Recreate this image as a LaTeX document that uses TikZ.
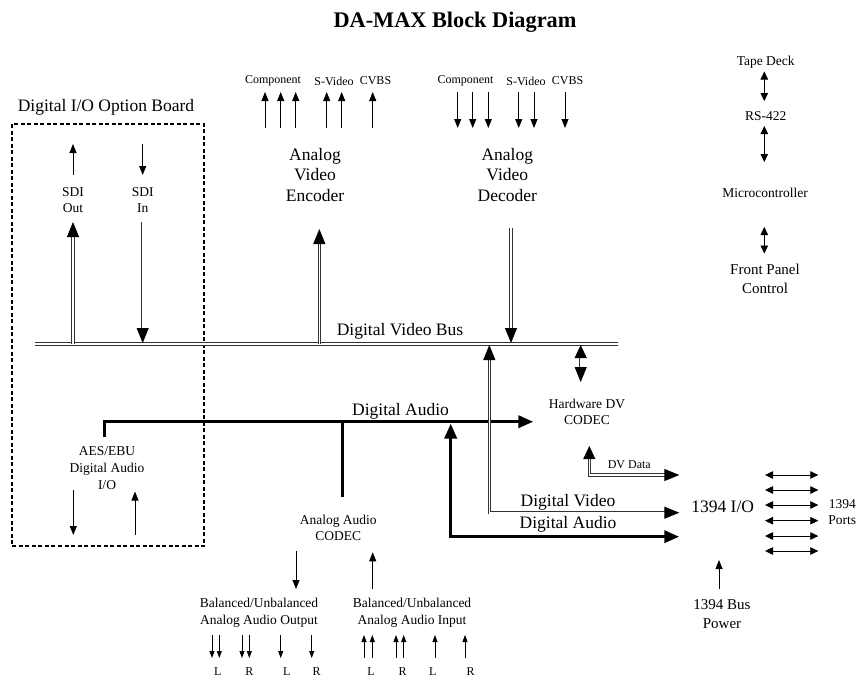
\documentclass[tikz,border=0pt]{standalone}
\usepackage{fontspec}
\setmainfont{Liberation Serif}
\usetikzlibrary{arrows.meta,positioning}

\tikzset{
  txt/.style={font=\fontsize{13.5}{16.7}\selectfont, align=center, inner sep=1pt},
  smtxt/.style={font=\fontsize{12}{14}\selectfont, inner sep=1pt},
  midtxt/.style={font=\fontsize{15}{19}\selectfont, align=center, inner sep=1pt},
  bigtxt/.style={font=\fontsize{17.5}{20.5}\selectfont, align=center, inner sep=1pt},
  sigarr/.style={line width=0.8pt, -{Triangle[length=9pt,width=7pt]}},
  smarr/.style={line width=0.8pt, -{Triangle[length=7pt,width=5pt]}},
  sigboth/.style={line width=0.8pt, {Triangle[length=8pt,width=7.5pt]}-{Triangle[length=8pt,width=7.5pt]}},
  dblline/.style={draw=black!80, double=white, double distance=1.6pt, line width=0.9pt},
  dblarr/.style={dblline, -{Triangle[length=15pt,width=12pt,color=black]}},
  dblboth/.style={dblline, {Triangle[length=13pt,width=12pt,color=black]}-{Triangle[length=15pt,width=12pt,color=black]}},
  audline/.style={line width=3.5pt, line join=miter},
  audarr/.style={audline, -{Triangle[length=15pt,width=12pt]}},
}

\begin{document}
\begin{tikzpicture}[x=1pt, y=-1pt]
  \useasboundingbox (0,0) rectangle (857,681);
  \node[font=\fontsize{22.3}{26}\selectfont\bfseries] (title) at (455,22) {DA-MAX Block Diagram};

  % option board
  \node[bigtxt] (iobrd) at (106,107) {Digital I/O Option Board};
  \draw[line width=1.3pt, dash pattern=on 4pt off 2.5pt] (12,124) rectangle (204,546);
  \node[txt] (sdiout) at (73,200) {SDI\\Out};
  \node[txt] (sdiin) at (142.7,200) {SDI\\In};
  \coordinate (sdioB) at (73,175);   \coordinate (sdioT) at (73,144);
  \coordinate (sdiiT) at (142.7,144); \coordinate (sdiiB) at (142.7,175);
  \draw[sigarr] (sdioB) -- (sdioT);
  \draw[sigarr] (sdiiT) -- (sdiiB);
  \node[txt] (aes) at (107,468) {AES/EBU\\Digital Audio\\I/O};
  \coordinate (aesoT) at (73.3,490); \coordinate (aesoB) at (73.3,535);
  \coordinate (aesiB) at (135,535);  \coordinate (aesiT) at (135,491.5);
  \draw[sigarr] (aesoT) -- (aesoB);
  \draw[sigarr] (aesiB) -- (aesiT);

  % video encoder / decoder
  \node[smtxt] (encc) at (273,81) {Component};
  \node[smtxt] (encs) at (334,81) {S-Video};
  \node[smtxt] (encv) at (375.5,81) {CVBS};
  \node[smtxt] (decc) at (465.5,81) {Component};
  \node[smtxt] (decs) at (526,81) {S-Video};
  \node[smtxt] (decv) at (567.5,81) {CVBS};
  \foreach \x [count=\i] in {265,280.7,295.7,326.7,341.7,372.7} {
    \coordinate (encB\i) at (\x,128);
    \coordinate (encT\i) at (\x,92);
    \draw[sigarr] (encB\i) -- (encT\i);
  }
  \foreach \x [count=\i] in {457.7,472.7,488.3,518.7,534,565} {
    \coordinate (decT\i) at (\x,92);
    \coordinate (decB\i) at (\x,128);
    \draw[sigarr] (decT\i) -- (decB\i);
  }
  \node[bigtxt] (enc) at (315,175) {Analog\\Video\\Encoder};
  \node[bigtxt] (dec) at (507.3,175) {Analog\\Video\\Decoder};

  % control
  \node[txt] (tape) at (765.7,62) {Tape Deck};
  \node[txt] (rs) at (765.7,116) {RS-422};
  \node[txt] (micro) at (765,193) {Microcontroller};
  \node[midtxt] (panel) at (765,279) {Front Panel\\Control};
  \coordinate (tapeB) at (764.3,71.5); \coordinate (rsT) at (764.3,101);
  \coordinate (rsB) at (764.3,126);    \coordinate (microT) at (764.3,162);
  \coordinate (microB) at (764.3,227); \coordinate (panelT) at (764.3,253.5);
  \draw[sigboth] (tapeB) -- (rsT);
  \draw[sigboth] (rsB) -- (microT);
  \draw[sigboth] (microB) -- (panelT);

  % audio paths
  \node[bigtxt] (daup) at (400.5,411) {Digital Audio};
  \node[bigtxt] (dalow) at (568,524) {Digital Audio};
  \node[txt] (acodec) at (338.3,528) {Analog Audio\\CODEC};
  \node[txt] (hwdv) at (587,412) {Hardware DV\\CODEC};
  \coordinate (aesT) at (104.3,437);
  \coordinate (daC) at (104.3,421.7);
  \coordinate (daE) at (533.3,421.7);
  \coordinate (daJ) at (342.3,421.7);
  \coordinate (acodT) at (342.3,497);
  \coordinate (dalT) at (450.7,423.5);
  \coordinate (dalC) at (450.7,536.7);
  \coordinate (dalE) at (679.3,536.7);
  \draw[audarr] (aesT) -- (daC) -- (daE);
  \draw[audline] (daJ) -- (acodT);
  \draw[audline, {Triangle[length=15pt,width=12pt]}-{Triangle[length=15pt,width=12pt]}] (dalT) -- (dalC) -- (dalE);

  % digital video bus
  \coordinate (busW) at (35,344);
  \coordinate (busE) at (618,344);
  \draw[dblline] (busW) -- (busE);
  \node[bigtxt] (dvbus) at (400,331) {Digital Video Bus};
  \coordinate (sdioD) at (73,344);    \coordinate (sdioU) at (73,222);
  \coordinate (sdiiU) at (142.7,222); \coordinate (sdiiD) at (142.7,343);
  \coordinate (encD) at (319.3,344);  \coordinate (encU) at (319.3,229);
  \coordinate (decU) at (511,228);    \coordinate (decD) at (511,343);
  \draw[dblarr] (sdioD) -- (sdioU);
  \draw[dblarr] (sdiiU) -- (sdiiD);
  \draw[dblarr] (encD) -- (encU);
  \draw[dblarr] (decU) -- (decD);
  \coordinate (hwT) at (580.7,345);  \coordinate (hwB) at (580.7,382);
  \draw[dblboth] (hwT) -- (hwB);

  % digital video and DV data
  \node[bigtxt] (dvid) at (568,502) {Digital Video};
  \node[smtxt] (dvdata) at (629.3,465) {DV Data};
  \coordinate (dvT) at (489.3,345);   \coordinate (dvT2) at (489.3,362);
  \coordinate (dvC) at (489.3,512.7);
  \coordinate (dvE2) at (662,512.7);  \coordinate (dvE) at (679.3,512.7);
  \draw[dblline] (dvT2) -- (dvC) -- (dvE2);
  \draw[dblarr] (dvT2) -- (dvT);
  \draw[dblarr] (dvE2) -- (dvE);
  \coordinate (dvdT) at (589.3,446);  \coordinate (dvdT2) at (589.3,462);
  \coordinate (dvdC) at (589.3,475);
  \coordinate (dvdE2) at (662,475);   \coordinate (dvdE) at (679.3,475);
  \draw[dblline] (dvdT2) -- (dvdC) -- (dvdE2);
  \draw[dblline, -{Triangle[length=13pt,width=12pt,color=black]}] (dvdT2) -- (dvdT);
  \draw[dblarr] (dvdE2) -- (dvdE);

  % 1394
  \node[bigtxt] (fw) at (722.7,506.7) {1394 I/O};
  \node[txt] (ports) at (842.3,512) {1394\\Ports};
  \foreach \y [count=\i] in {475,490,505,520.7,536,551} {
    \coordinate (portL\i) at (765,\y);
    \coordinate (portR\i) at (818.3,\y);
    \draw[sigboth] (portL\i) -- (portR\i);
  }
  \node[midtxt] (fwpwr) at (722,614) {1394 Bus\\Power};
  \coordinate (fwpB) at (719,589.3); \coordinate (fwpT) at (719,560);
  \draw[sigarr] (fwpB) -- (fwpT);

  % analog audio
  \coordinate (acoOT) at (296,551);   \coordinate (acoOB) at (296,589);
  \coordinate (acoIB) at (372.7,589.3); \coordinate (acoIT) at (372.7,552.3);
  \draw[sigarr] (acoOT) -- (acoOB);
  \draw[sigarr] (acoIB) -- (acoIT);
  \node[txt] (balout) at (259,612.7) {Balanced/Unbalanced\\Analog Audio Output};
  \node[txt] (balin) at (412,612.7) {Balanced/Unbalanced\\Analog Audio Input};
  \foreach \x [count=\i] in {212,219.3,242,249.3,280.7,311.7} {
    \coordinate (aoT\i) at (\x,635);
    \coordinate (aoB\i) at (\x,658);
    \draw[smarr] (aoT\i) -- (aoB\i);
  }
  \foreach \x [count=\i] in {364,372.3,396,403.7,435,465} {
    \coordinate (aiB\i) at (\x,658);
    \coordinate (aiT\i) at (\x,635);
    \draw[smarr] (aiB\i) -- (aiT\i);
  }
  \foreach \x/\ch [count=\i] in {217.7/L,249.3/R,286.7/L,316.7/R,371/L,402.7/R,432.7/L,470.7/R}
    \node[smtxt] (ch\i) at (\x,671.7) {\ch};
\end{tikzpicture}
\end{document}
